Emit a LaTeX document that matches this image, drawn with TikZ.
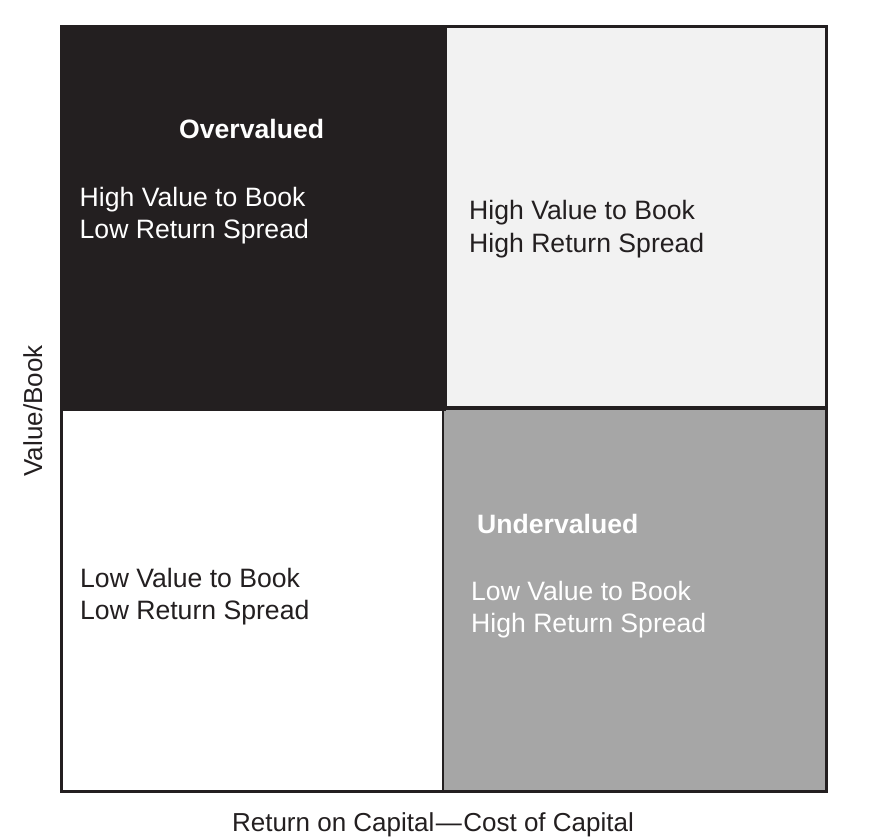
\documentclass[tikz,border=0pt]{standalone}
\usepackage{fontspec}
\setmainfont{Liberation Sans}
\begin{document}
\begin{tikzpicture}[x=1pt,y=-1pt,
  cell/.style={line width=2.6pt,draw=inkdark},
  lbl/.style={anchor=base west,inner sep=0pt,font=\fontsize{26.6}{32}\selectfont},
  head/.style={lbl,font=\fontsize{26.6}{32}\selectfont\bfseries}]
\definecolor{inkdark}{HTML}{231F20}
\definecolor{paleface}{HTML}{F2F2F2}
\definecolor{midgrey}{HTML}{A6A6A6}
\useasboundingbox (0,0) rectangle (879,840);
\fill[white] (0,0) rectangle (879,840);

% quadrants
\filldraw[cell,fill=white]    (61.3,410) rectangle (443,791.7);
\filldraw[cell,fill=midgrey]  (443,408.5) rectangle (826.7,791.7);
\filldraw[cell,fill=inkdark]  (61.3,26.3) rectangle (444.5,410);
\filldraw[cell,fill=paleface] (445.8,26.3) rectangle (826.7,407.5);

% top left: overvalued
\node[head,text=white] (ovh) at (179,139) {Overvalued};
\node[lbl,text=white] (ov1) at (79.5,207) {High Value to Book};
\node[lbl,text=white] (ov2) at (79.5,239) {Low Return Spread};

% top right
\node[lbl,text=inkdark] (hh1) at (469,220) {High Value to Book};
\node[lbl,text=inkdark] (hh2) at (469,252) {High Return Spread};

% bottom left
\node[lbl,text=inkdark] (ll1) at (80,587) {Low Value to Book};
\node[lbl,text=inkdark] (ll2) at (80,619) {Low Return Spread};

% bottom right: undervalued
\node[head,text=white] (unh) at (477,533) {Undervalued};
\node[lbl,text=white] (un1) at (471,600) {Low Value to Book};
\node[lbl,text=white] (un2) at (471,632) {High Return Spread};

% axis titles
\node[anchor=base,inner sep=0pt,font=\fontsize{26}{32}\selectfont,text=inkdark] (xt) at (433,831)
  {Return on Capital\kern1.5pt—\kern1.5pt Cost of Capital};
\node[anchor=base,inner sep=0pt,rotate=90,font=\fontsize{26}{32}\selectfont,text=inkdark] (yt) at (42,411) {Value/Book};
\end{tikzpicture}
\end{document}
